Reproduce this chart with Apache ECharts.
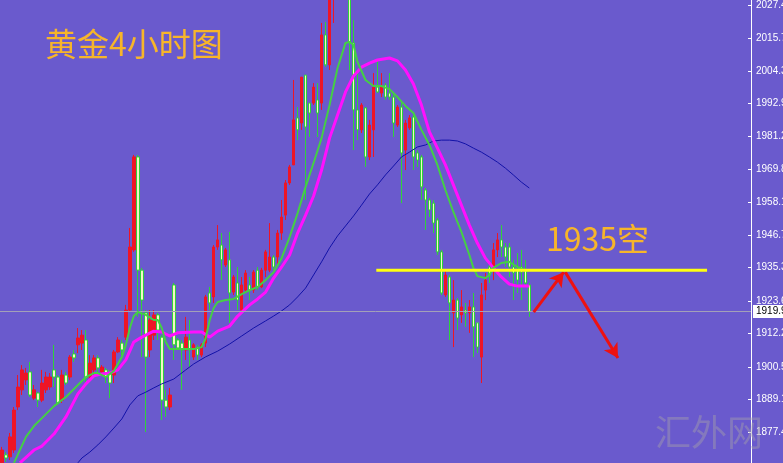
<!DOCTYPE html>
<html><head><meta charset="utf-8">
<script src="https://cdn.jsdelivr.net/npm/echarts/dist/echarts.min.js"></script>
<style>html,body{margin:0;padding:0;background:#6a5acd;}#c{width:783px;height:463px;}</style>
</head><body><div id="c"></div>
<script>
// ---- data ----
const titleText = '黄金4小时图';
const noteText = '1935空';
const watermarkText = '汇外网';
const slotCount = 188;
const categories = Array.from({length: slotCount}, (_, i) => String(i));
const open  = [1866.8,1869.6,1868.9,1871.3,1886.4,1892.4,1895.9,1898.7,1889.5,1891.3,1888.8,1892.4,1893.4,1899.4,1896.9,1888.8,1897.6,1896.9,1905.0,1908.2,1908.8,1909.9,1896.9,1899.4,1903.6,1898.7,1899.4,1898.3,1897.6,1905.7,1908.8,1910.9,1920.4,1941.5,1974.1,1934.4,1919.4,1906.4,1911.6,1918.7,1910.9,1888.8,1886.4,1929.2,1909.9,1908.8,1906.4,1909.9,1903.9,1907.4,1904.6,1908.8,1926.4,1925.0,1942.5,1943.2,1936.2,1938.0,1926.7,1929.9,1920.4,1927.4,1929.2,1927.4,1934.4,1928.5,1934.4,1934.4,1939.0,1939.0,1947.4,1953.7,1965.0,1971.3,1987.8,1986.0,2002.8,1993.0,1993.0,1994.1,1993.0,2016.9,2006.4,2035.0,2060.0,2075.0,2060.0,2040.0,2014.1,1990.6,1983.6,1991.3,1974.1,1983.6,1998.6,1996.5,1999.3,1996.5,1995.1,1985.3,1991.6,1976.5,1984.3,1988.1,1975.5,1974.1,1962.5,1959.0,1957.9,1952.0,1940.8,1925.7,1932.0,1919.4,1923.9,1918.7,1920.4,1919.4,1921.5,1915.9,1903.9,1927.4,1935.5,1935.5,1941.5,1945.0,1942.5,1942.5,1935.5,1934.4,1935.5,1934.4,1929.2];
const close = [1871.3,1868.5,1875.9,1885.3,1893.4,1899.4,1898.3,1890.6,1892.4,1888.8,1894.8,1896.9,1896.9,1896.9,1887.8,1897.6,1894.8,1903.9,1903.6,1910.6,1911.6,1896.6,1901.8,1903.6,1900.1,1900.4,1896.9,1894.8,1905.7,1909.9,1906.4,1920.4,1942.5,1974.1,1934.4,1923.9,1903.9,1916.9,1918.7,1913.4,1888.8,1886.4,1890.6,1908.2,1907.1,1906.4,1910.9,1906.4,1908.2,1904.6,1908.2,1925.0,1922.9,1942.5,1945.0,1938.0,1941.5,1926.4,1932.0,1923.9,1929.2,1933.4,1927.4,1933.7,1928.5,1934.4,1940.8,1939.0,1935.5,1947.4,1953.0,1965.0,1970.6,1987.1,1983.6,2002.1,1984.6,1989.5,1998.6,1989.5,2016.9,2006.4,2040.0,2060.0,2075.0,2060.0,2040.0,2014.4,1990.6,1983.6,1992.3,1974.1,1985.3,1998.6,1996.9,1998.6,1995.1,1995.1,1986.0,1991.6,1975.5,1986.0,1987.8,1974.1,1973.0,1963.6,1959.0,1955.5,1950.9,1940.8,1926.4,1932.7,1922.9,1923.9,1917.6,1921.5,1919.4,1921.5,1914.5,1907.4,1925.7,1930.9,1932.7,1941.5,1945.0,1942.5,1939.0,1935.5,1933.4,1930.9,1933.7,1929.9,1919.9];
const low   = [1866.1,1867.1,1867.8,1870.3,1885.3,1890.6,1894.1,1889.9,1888.8,1886.4,1888.1,1891.3,1892.4,1893.4,1887.1,1887.8,1894.1,1895.9,1902.2,1905.3,1906.4,1893.4,1895.9,1896.9,1898.3,1897.6,1894.8,1889.5,1894.8,1905.3,1904.6,1909.9,1919.7,1940.8,1918.0,1903.9,1877.6,1903.9,1909.9,1909.9,1881.8,1882.9,1885.3,1902.9,1906.4,1892.4,1902.9,1900.4,1902.9,1902.9,1903.9,1907.4,1920.4,1922.9,1941.5,1930.9,1935.5,1915.9,1925.7,1920.4,1919.7,1926.7,1923.9,1926.4,1927.4,1928.1,1932.0,1933.7,1934.4,1935.5,1945.0,1952.0,1964.3,1974.1,1980.0,1983.6,1959.0,1981.1,1992.3,1981.1,1990.6,2005.7,2004.6,2021.1,2050.0,2055.0,2035.0,2004.6,1976.5,1980.0,1982.5,1970.6,1973.0,1974.1,1996.5,1995.1,1994.1,1994.1,1981.1,1984.6,1957.9,1969.5,1983.6,1969.5,1970.6,1959.0,1948.5,1953.0,1947.4,1939.7,1925.7,1925.0,1909.9,1907.4,1913.4,1915.9,1914.5,1912.4,1903.9,1905.3,1894.8,1923.9,1929.9,1930.9,1939.0,1939.0,1935.5,1932.0,1923.9,1926.4,1923.9,1928.5,1918.0];
const high  = [1872.4,1870.6,1877.3,1886.4,1897.6,1901.1,1900.1,1902.2,1894.1,1891.7,1899.4,1898.7,1898.3,1908.2,1897.6,1899.4,1898.7,1904.6,1906.4,1914.1,1913.4,1913.4,1904.6,1904.6,1904.6,1901.1,1900.1,1899.4,1906.4,1910.9,1909.9,1922.2,1949.2,1974.8,1974.8,1935.2,1920.4,1920.4,1920.4,1919.4,1911.6,1892.4,1893.1,1929.9,1910.6,1909.9,1918.0,1916.9,1908.8,1908.2,1908.8,1925.7,1928.5,1943.2,1950.2,1947.4,1942.2,1947.8,1932.7,1935.5,1932.0,1934.4,1932.0,1934.4,1935.5,1935.2,1941.5,1950.9,1939.7,1948.5,1959.0,1966.0,1971.3,2001.1,1991.6,2002.1,2002.8,1993.0,2000.0,2000.0,2021.1,2021.4,2045.0,2065.0,2080.0,2085.0,2065.0,2045.0,2022.1,2004.6,1993.0,1991.6,1987.1,2003.5,2008.1,2003.5,2000.0,2003.5,1996.5,1992.3,1993.0,1987.1,1988.8,1989.5,1976.5,1974.8,1963.2,1959.7,1959.0,1952.7,1941.5,1934.4,1932.7,1930.9,1924.6,1927.4,1922.9,1923.9,1926.4,1915.9,1929.9,1933.4,1936.2,1943.9,1947.4,1950.2,1943.9,1943.9,1938.0,1940.4,1941.5,1938.0,1929.9];
const maFast = [[3,1866.8],[6,1875.9],[8,1879.7],[10,1882.5],[13,1886.7],[16,1889.9],[19,1894.1],[21,1896.9],[23,1898.3],[24,1898.3],[26,1896.9],[28,1899.0],[30,1903.9],[31,1908.1],[32,1914.1],[33,1918.3],[34,1919.7],[36,1918.7],[38,1916.9],[39,1916.9],[40,1914.1],[41,1909.2],[42,1906.7],[45,1906.7],[48,1906.7],[50,1907.4],[51,1910.6],[52,1916.9],[53,1921.1],[54,1923.2],[56,1923.9],[58,1924.3],[60,1926.0],[62,1927.4],[64,1928.5],[66,1930.9],[68,1933.7],[70,1938.6],[72,1946.0],[74,1954.4],[76,1963.6],[78,1972.0],[80,1980.7],[82,1992.3],[84,2005.3],[86,2014.1],[87,2014.4],[88,2013.4],[89,2007.4],[91,2001.1],[93,1999.0],[95,1999.0],[97,1997.9],[99,1995.1],[101,1992.0],[103,1989.5],[105,1983.6],[107,1978.3],[109,1971.3],[111,1962.5],[113,1954.8],[115,1947.8],[117,1939.7],[118,1935.2],[119,1932.3],[121,1931.6],[122,1932.7],[123,1935.2],[125,1936.9],[127,1937.3],[129,1935.5],[131,1934.4],[132,1934.1]];
const maMid = [[4.5,1866.8],[8,1871.3],[10,1872.7],[13,1876.9],[16,1882.9],[19,1891.0],[21,1894.5],[23,1897.3],[25,1898.0],[27,1898.3],[29,1899.4],[31,1902.9],[33,1909.2],[35,1910.9],[38,1913.0],[40,1912.7],[42,1911.3],[44,1912.4],[48,1912.7],[50,1912.7],[52,1910.9],[54,1913.0],[57,1914.8],[59,1918.3],[62,1922.2],[64,1924.3],[66,1926.7],[68,1931.6],[70,1935.5],[72,1939.7],[74,1947.4],[76,1953.7],[78,1960.4],[80,1969.5],[82,1980.7],[84,1988.8],[86,1996.9],[88,2002.5],[90,2005.6],[92,2007.0],[94,2008.1],[97,2008.8],[99,2007.8],[101,2004.6],[103,1999.7],[105,1992.3],[107,1982.9],[109,1977.2],[111,1971.3],[113,1964.3],[115,1957.2],[117,1950.2],[119,1943.9],[121,1938.6],[123,1935.2],[125,1932.0],[127,1929.5],[129,1928.8],[132,1928.8]];
const maSlow = [[19,1866.8],[20,1868.5],[22,1870.6],[24,1873.1],[26,1875.9],[28,1879.0],[30,1882.2],[32,1887.1],[34,1890.3],[36,1891.6],[38,1893.1],[40,1894.5],[43,1896.2],[46,1899.4],[48,1901.5],[51,1904.0],[54,1906.0],[57,1908.5],[60,1911.3],[63,1914.1],[66,1916.6],[68,1918.3],[70,1920.1],[72,1922.2],[74,1925.0],[76,1928.1],[78,1932.7],[80,1937.3],[82,1942.2],[84,1946.4],[86,1949.9],[88,1953.4],[90,1957.2],[92,1961.1],[94,1964.3],[96,1967.8],[98,1970.9],[100,1974.1],[102,1975.8],[104,1977.6],[106,1978.3],[108,1979.7],[110,1980.0],[112,1980.0],[114,1979.7],[116,1978.7],[118,1977.2],[120,1975.8],[122,1974.1],[124,1972.3],[126,1970.2],[128,1967.8],[130,1965.3],[132,1963.2]];
const tickLabels = [2027.4,2015.7,2004.3,1992.9,1981.2,1969.8,1958.1,1946.7,1935.3,1923.6,1912.2,1900.5,1889.1,1877.4];
const currentPrice = 1919.9;
const levelLine = [[93.7,1934.4],[176.5,1934.4]];
const arrowUp = [[133.1,1919.7],[140.6,1933.7]];
const arrowDown = [[141.0,1933.7],[154.2,1903.6]];
const yMin = 1866.75, yMax = 2029.15;

// ---- chart ----
const candleData = open.map((o, i) => [o, close[i], low[i], high[i]]);
const chart = echarts.init(document.getElementById('c'), null, {renderer: 'canvas'});
chart.setOption({
  animation: false,
  backgroundColor: '#6a5acd',
  grid: {left: 0, right: 32, top: 0, bottom: 0, containLabel: false, outerBoundsMode: 'none'},
  xAxis: [
    {type: 'category', data: categories, show: false, boundaryGap: true},
    {type: 'value', min: -0.5, max: slotCount - 0.5, show: false}
  ],
  yAxis: {
    type: 'value', position: 'right', min: yMin, max: yMax, scale: true,
    splitLine: {show: false},
    axisLine: {show: true, onZero: false, lineStyle: {color: '#ffffff', width: 1}},
    axisTick: {show: true, inside: true, length: 3, customValues: tickLabels, lineStyle: {color: '#ffffff'}},
    axisLabel: {show: true, customValues: tickLabels, color: '#ffffff', fontSize: 10,
      fontFamily: 'Liberation Sans', margin: 5, formatter: v => v.toFixed(1)}
  },
  series: [
    {
      type: 'candlestick', data: candleData, barWidth: 3, clip: true,
      itemStyle: {color: '#ee1526', borderColor: '#ee1526', color0: '#f4f6c6', borderColor0: '#2fd23a', borderWidth: 1},
      markLine: {
        silent: true, symbol: ['none', 'none'], animation: false,
        lineStyle: {color: '#a3a0b8', width: 1, type: 'solid'},
        label: {show: true, position: 'end', distance: 2, formatter: currentPrice.toFixed(1),
          backgroundColor: '#ffffff', color: '#000000', padding: [2, 3, 1, 3], fontSize: 10, fontFamily: 'Liberation Sans'},
        data: [{yAxis: currentPrice}]
      },
      z: 2
    },
    {type: 'line', xAxisIndex: 1, data: maSlow, symbol: 'none', lineStyle: {color: '#1212a8', width: 1}, z: 3},
    {type: 'line', xAxisIndex: 1, data: maMid, symbol: 'none', lineStyle: {color: '#ff10ff', width: 3}, z: 4},
    {type: 'line', xAxisIndex: 1, data: maFast, symbol: 'none', lineStyle: {color: '#45cf45', width: 2}, z: 5},
    {type: 'line', xAxisIndex: 1, data: levelLine, symbol: 'none', lineStyle: {color: '#ffff10', width: 3}, z: 6,
      markLine: {
        silent: true, symbol: ['none', 'arrow'], symbolSize: [12, 14], animation: false,
        lineStyle: {color: '#ee1111', width: 3, type: 'solid'},
        label: {show: false},
        data: [
          [{coord: arrowUp[0]}, {coord: arrowUp[1]}],
          [{coord: arrowDown[0]}, {coord: arrowDown[1]}]
        ]
      }
    }
  ],
  graphic: [
    {type: 'text', x: 45, y: 44, z: 10, style: {text: titleText, fill: '#f7b52a', font: '32px "Noto Sans CJK SC"', align: 'left', verticalAlign: 'middle'}},
    {type: 'text', x: 546, y: 239, z: 10, style: {text: noteText, fill: '#f7b52a', font: '32px "Noto Sans CJK SC"', align: 'left', verticalAlign: 'middle'}},
    {type: 'text', x: 655, y: 432, z: 1, style: {text: watermarkText, fill: 'rgba(165,160,170,0.45)', font: '36px "Noto Sans CJK SC"', align: 'left', verticalAlign: 'middle'}}
  ]
});
</script></body></html>
